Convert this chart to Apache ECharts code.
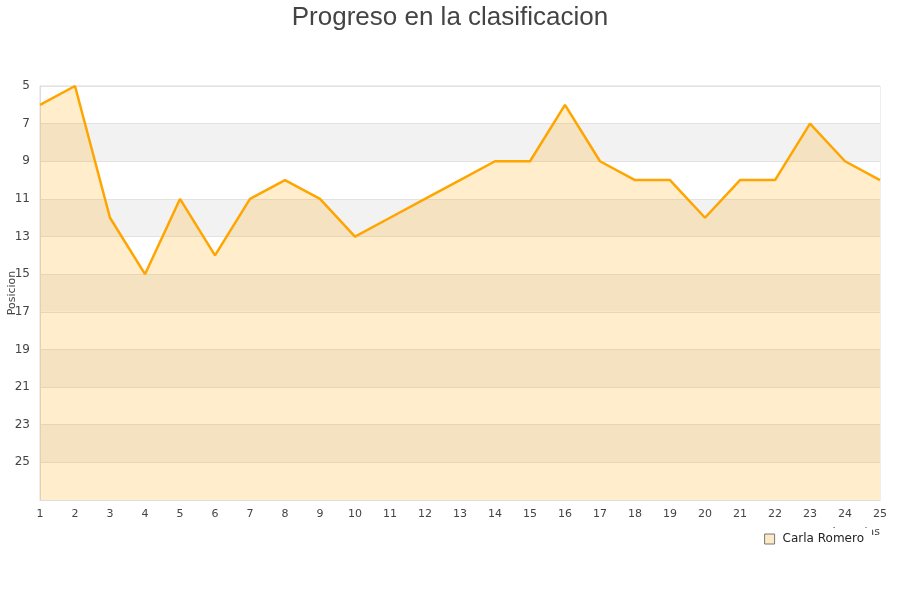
<!DOCTYPE html>
<html><head><meta charset="utf-8">
<script src="https://cdn.jsdelivr.net/npm/echarts@6/dist/echarts.min.js"></script>
<style>html,body{margin:0;padding:0;background:#fff}#c{width:900px;height:600px}</style>
</head><body><div id="c"></div>
<script>
const titleText = 'Progreso en la clasificacion';
const seriesName = 'Carla Romero';
const jornadas = ['1','2','3','4','5','6','7','8','9','10','11','12','13','14','15','16','17','18','19','20','21','22','23','24','25'];
const posiciones = [6,5,12,15,11,14,11,10,11,13,12,11,10,9,9,6,9,10,10,12,10,10,7,9,10];
const xAxisName = 'Jornadas';
const yAxisName = 'Posicion';

const chart = echarts.init(document.getElementById('c'));
chart.setOption({
  animation: false,
  title: { text: titleText, left: 'center', top: 0,
    textStyle: { fontFamily: 'Liberation Sans', fontSize: 26, fontWeight: 'normal', color: '#444' } },
  grid: { left: 40, right: 20, top: 86, bottom: 100, show: true, borderColor: '#ddd', borderWidth: 1,
    containLabel: false, outerBoundsMode: 'none' },
  legend: { data: [seriesName], right: 28, top: 528, icon: 'rect', itemWidth: 10, itemHeight: 10, itemGap: 8,
    backgroundColor: '#fff', padding: [5, 8, 5, 5],
    textStyle: { fontFamily: 'DejaVu Sans', fontSize: 12, color: '#222', padding: [0, 0, 0, 3] },
    itemStyle: { color: '#fde9c6', borderColor: '#777', borderWidth: 1 } },
  xAxis: {
    type: 'category', data: jornadas, boundaryGap: false,
    name: xAxisName, nameLocation: 'end', nameGap: 0,
    nameTextStyle: { fontFamily: 'DejaVu Sans', fontSize: 11, color: '#444', align: 'right', verticalAlign: 'top', padding: [27, 0, 0, 0] },
    axisLine: { lineStyle: { color: '#ddd' } },
    axisTick: { show: false },
    axisLabel: { fontFamily: 'DejaVu Sans', fontSize: 11, color: '#444', margin: 9 },
    splitLine: { show: false }
  },
  yAxis: {
    type: 'value', inverse: true, min: 5, max: 27, interval: 2,
    name: yAxisName, nameLocation: 'middle', nameGap: 22, nameMoveOverlap: false,
    nameTextStyle: { fontFamily: 'DejaVu Sans', fontSize: 11, color: '#444' },
    axisLine: { show: true, lineStyle: { color: '#ddd' } },
    axisTick: { show: false },
    axisLabel: { fontFamily: 'DejaVu Sans', fontSize: 12, color: '#444', margin: 10, showMaxLabel: false },
    splitLine: { show: true, lineStyle: { color: '#e2e2e2' } },
    splitArea: { show: true, areaStyle: { color: ['#ffffff', '#f2f2f2'] } }
  },
  series: [{
    name: seriesName, type: 'line', data: posiciones,
    showSymbol: false, symbol: 'none',
    lineStyle: { color: '#ffa500', width: 2.5 },
    itemStyle: { color: '#ffa500' },
    areaStyle: { color: 'rgba(255,165,0,0.2)', opacity: 1, origin: 'end' }
  }]
});
</script></body></html>
